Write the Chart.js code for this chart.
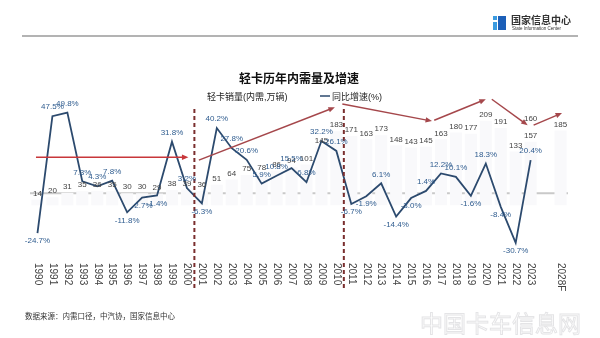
<!DOCTYPE html>
<html>
<head>
<meta charset="utf-8">
<script src="https://cdn.jsdelivr.net/npm/chart.js@4"></script>
<style>
  html, body { margin: 0; padding: 0; background: #fff; }
  canvas { display: block; }
</style>
</head>
<body>
<canvas id="lightTruckChart" width="600" height="338"></canvas>
<script>
const years = ["1990", "1991", "1992", "1993", "1994", "1995", "1996", "1997", "1998", "1999",
  "2000", "2001", "2002", "2003", "2004", "2005", "2006", "2007", "2008", "2009",
  "2010", "2011", "2012", "2013", "2014", "2015", "2016", "2017", "2018", "2019",
  "2020", "2021", "2022", "2023", "", "2028F"];

// 轻卡销量 (内需, 万辆)
const salesVolume = [14, 20, 31, 35, 36, 35, 30, 30, 29, 38,
  39, 36, 51, 64, 75, 78, 86, 94, 101, 145,
  183, 171, 163, 173, 148, 143, 145, 163, 180, 177,
  209, 191, 133, 157, null, 185];

// 同比增速 (%)
const growthRate = [-24.7, 47.5, 49.8, 7.3, 4.3, 7.8, -11.8, -2.7, -1.4, 31.8,
  3.2, -6.3, 40.2, 27.8, 20.6, 5.9, 10.8, 15.5, 6.8, 32.2,
  26.1, -6.7, -1.9, 6.1, -14.4, -3.0, 1.4, 12.2, 10.1, -1.6,
  18.3, -8.4, -30.7, 20.4, null, null];

// 2023 revised figure shown above the bar label
const revisedLabel = { index: 33, text: "160" };

// stage dividers sit between these category indexes
const stageBreaks = [10.5, 20.5];

// trend arrows: [fromIndex, fromRate, toIndex, toRate, colour]
const trendArrows = [
  [-0.1, 22.2, 10.1, 22.2, "#c8373a"],
  [10.8, 20.4, 19.9, 53, "#a5474b"],
  [20.4, 55, 26.4, 44.5, "#a5474b"],
  [26.55, 45, 30.0, 58, "#a5474b"],
  [30.4, 58, 32.8, 42, "#a5474b"],
  [33.2, 42, 35.1, 49.5, "#a5474b"]
];

const color = {
  line: "#2c4a6e",
  rateLabel: "#2f5c8f",
  salesLabel: "#444444",
  bar: "#f9f9fb",
  zero: "#c9c9c9",
  divider: "#7a2e2e"
};

const cjk = '"Liberation Sans", "Noto Sans CJK SC", sans-serif';

function drawArrow(ctx, x0, y0, x1, y1, stroke) {
  const ang = Math.atan2(y1 - y0, x1 - x0);
  ctx.strokeStyle = stroke;
  ctx.fillStyle = stroke;
  ctx.lineWidth = 1.5;
  ctx.beginPath();
  ctx.moveTo(x0, y0);
  ctx.lineTo(x1 - 4 * Math.cos(ang), y1 - 4 * Math.sin(ang));
  ctx.stroke();
  ctx.beginPath();
  ctx.moveTo(x1, y1);
  ctx.lineTo(x1 - 7 * Math.cos(ang - 0.4), y1 - 7 * Math.sin(ang - 0.4));
  ctx.lineTo(x1 - 7 * Math.cos(ang + 0.4), y1 - 7 * Math.sin(ang + 0.4));
  ctx.closePath();
  ctx.fill();
}

const decorations = {
  id: "decorations",
  beforeDatasetsDraw(chart) {
    const ctx = chart.ctx;
    const y = chart.scales.y;
    // zero line
    ctx.save();
    ctx.strokeStyle = color.zero;
    ctx.lineWidth = 2;
    ctx.beginPath();
    ctx.moveTo(chart.chartArea.left, y.getPixelForValue(0));
    ctx.lineTo(chart.chartArea.right, y.getPixelForValue(0));
    ctx.stroke();
    ctx.restore();
  },
  afterDatasetsDraw(chart) {
    const ctx = chart.ctx;
    const x = chart.scales.x;
    const y = chart.scales.y;
    const barMeta = chart.getDatasetMeta(0);
    const lineMeta = chart.getDatasetMeta(1);
    ctx.save();

    // stage dividers
    ctx.strokeStyle = color.divider;
    ctx.lineWidth = 2;
    ctx.setLineDash([4, 3]);
    stageBreaks.forEach(b => {
      const px = (x.getPixelForValue(Math.floor(b)) + x.getPixelForValue(Math.ceil(b))) / 2;
      ctx.beginPath();
      ctx.moveTo(px, y.getPixelForValue(52));
      ctx.lineTo(px, y.getPixelForValue(-60));
      ctx.stroke();
    });
    ctx.setLineDash([]);

    // trend arrows
    trendArrows.forEach(a => {
      const x0 = x.left + (a[0] + 0.5) * (x.width / years.length);
      const x1 = x.left + (a[2] + 0.5) * (x.width / years.length);
      drawArrow(ctx, x0, y.getPixelForValue(a[1]), x1, y.getPixelForValue(a[3]), a[4]);
    });

    ctx.textAlign = "center";
    ctx.textBaseline = "middle";
    ctx.font = "8px " + cjk;

    // sales labels
    ctx.fillStyle = color.salesLabel;
    barMeta.data.forEach((bar, i) => {
      if (salesVolume[i] == null) return;
      ctx.fillText(String(salesVolume[i]), bar.x, bar.y - 6);
    });
    const rb = barMeta.data[revisedLabel.index];
    ctx.fillText(revisedLabel.text, rb.x, rb.y - 23);

    // rate labels
    ctx.fillStyle = color.rateLabel;
    lineMeta.data.forEach((pt, i) => {
      const v = growthRate[i];
      if (v == null) return;
      const dy = v < 0 ? 8 : -9;
      ctx.fillText(v.toFixed(1) + "%", pt.x, pt.y + dy);
    });

    // x tick labels, rotated clockwise
    ctx.fillStyle = "#444";
    ctx.font = "10px " + cjk;
    ctx.textAlign = "left";
    years.forEach((yr, i) => {
      if (!yr) return;
      ctx.save();
      ctx.translate(x.getPixelForValue(i), chart.chartArea.bottom + 5);
      ctx.rotate(Math.PI / 2);
      ctx.fillText(yr, 0, 0);
      ctx.restore();
    });
    ctx.restore();
  },
  afterDraw(chart) {
    const ctx = chart.ctx;
    ctx.save();
    // header rule
    ctx.strokeStyle = "#9a9a9a";
    ctx.lineWidth = 1.5;
    ctx.beginPath();
    ctx.moveTo(22, 36);
    ctx.lineTo(578, 36);
    ctx.stroke();

    // logo
    ctx.fillStyle = "#3b9be0";
    ctx.fillRect(493, 16, 4, 4);
    ctx.fillRect(493, 22, 4, 8);
    ctx.fillStyle = "#1c5fb8";
    ctx.fillRect(498, 16, 8, 14);
    ctx.fillStyle = "#333";
    ctx.textBaseline = "alphabetic";
    ctx.textAlign = "left";
    ctx.font = "bold 10px " + cjk;
    ctx.fillText("国家信息中心", 511, 24);
    ctx.font = "4.5px " + cjk;
    ctx.fillText("State Information Center", 512, 30);

    // title and legend
    ctx.textAlign = "center";
    ctx.font = "bold 12px " + cjk;
    ctx.fillStyle = "#111";
    ctx.fillText("轻卡历年内需量及增速", 299, 83);
    ctx.textAlign = "left";
    ctx.font = "9px " + cjk;
    ctx.fillStyle = "#222";
    ctx.fillText("轻卡销量(内需,万辆)", 207, 100);
    ctx.strokeStyle = color.line;
    ctx.lineWidth = 1.5;
    ctx.beginPath();
    ctx.moveTo(320, 96);
    ctx.lineTo(330, 96);
    ctx.stroke();
    ctx.fillText("同比增速(%)", 332, 100);

    // source
    ctx.font = "7.5px " + cjk;
    ctx.fillStyle = "#333";
    ctx.fillText("数据来源：内需口径，中汽协，国家信息中心", 25, 319);

    // watermark
    ctx.font = "23px " + cjk;
    ctx.strokeStyle = "rgba(205,205,210,0.55)";
    ctx.lineWidth = 1;
    ctx.strokeText("中国卡车信息网", 420, 332);
    ctx.restore();
  }
};

new Chart(document.getElementById("lightTruckChart").getContext("2d"), {
  type: "bar",
  data: {
    labels: years,
    datasets: [
      {
        label: "轻卡销量(内需,万辆)",
        data: salesVolume,
        backgroundColor: color.bar,
        yAxisID: "y1",
        barPercentage: 0.9,
        categoryPercentage: 0.9,
        order: 2
      },
      {
        type: "line",
        label: "同比增速(%)",
        data: growthRate,
        borderColor: color.line,
        borderWidth: 1.8,
        pointRadius: 0,
        tension: 0,
        yAxisID: "y",
        order: 1
      }
    ]
  },
  options: {
    responsive: false,
    animation: false,
    devicePixelRatio: 1,
    layout: { padding: { left: 30, right: 32, top: 96, bottom: 80 } },
    plugins: {
      legend: { display: false },
      title: { display: false },
      tooltip: { enabled: false }
    },
    scales: {
      x: { display: false },
      y: { display: false, min: -40, max: 60 },
      y1: { display: false, min: -130, max: 270 }
    }
  },
  plugins: [decorations]
});
</script>
</body>
</html>
